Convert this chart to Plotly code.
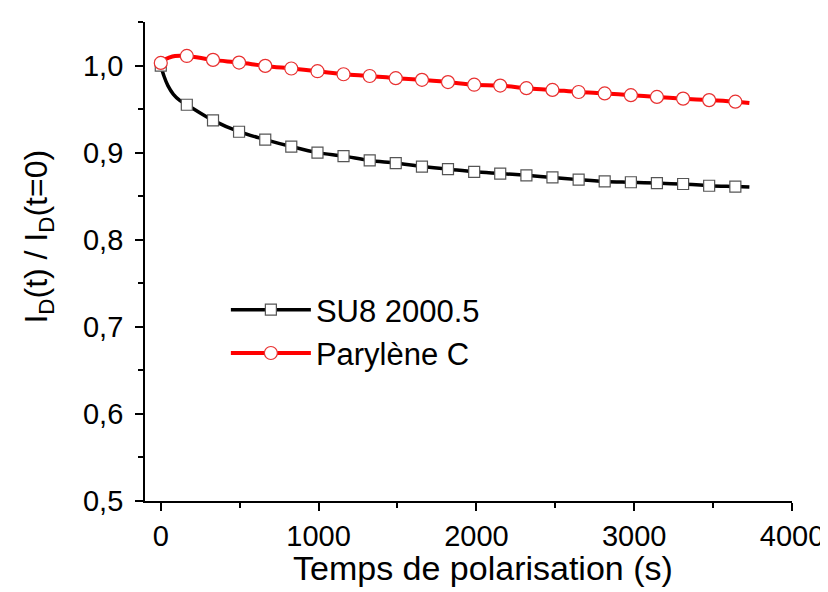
import plotly.graph_objects as go

# Marker times (s)
t_markers = [0, 165, 331, 496, 662, 827, 993, 1158, 1324, 1489, 1655, 1820, 1986,
             2151, 2317, 2482, 2648, 2813, 2979, 3144, 3310, 3475, 3641]

su8_markers = [1.000, 0.955, 0.937, 0.924, 0.915, 0.907, 0.900, 0.896, 0.891, 0.888,
               0.884, 0.881, 0.878, 0.876, 0.874, 0.8715, 0.869, 0.867, 0.866, 0.865,
               0.864, 0.862, 0.861]

pary_markers = [1.003, 1.011, 1.0065, 1.0034, 0.9996, 0.9966, 0.9935, 0.990, 0.988,
                0.9855, 0.9836, 0.981, 0.978, 0.977, 0.974, 0.972, 0.9696, 0.968,
                0.966, 0.964, 0.962, 0.9603, 0.9585]

# Continuous curves (incl. early-time detail and end of line)
su8_t = [0, 20, 45, 80, 120] + t_markers[1:] + [3730]
su8_v = [1.000, 0.988, 0.977, 0.967, 0.960] + su8_markers[1:] + [0.8604]

pary_t = [0, 25, 50, 90] + t_markers[1:] + [3730]
pary_v = [1.003, 1.007, 1.009, 1.011] + pary_markers[1:] + [0.957]

x_ticks = [0, 1000, 2000, 3000, 4000]
y_ticks = [0.5, 0.6, 0.7, 0.8, 0.9, 1.0]

x_title = "Temps de polarisation (s)"
y_title = "I<sub>D</sub>(t) / I<sub>D</sub>(t=0)"

fig = go.Figure()

# smooth lines
fig.add_trace(go.Scatter(x=su8_t, y=su8_v, mode="lines",
                         line=dict(color="black", width=3.5, shape="spline"),
                         showlegend=False, hoverinfo="skip"))
fig.add_trace(go.Scatter(x=pary_t, y=pary_v, mode="lines",
                         line=dict(color="#ff0000", width=4, shape="spline"),
                         showlegend=False, hoverinfo="skip"))
# markers
sq_marker = dict(symbol="square", size=11, color="white",
                 line=dict(color="#555555", width=1.2))
ci_marker = dict(symbol="circle", size=13, color="white",
                 line=dict(color="#e83030", width=1.2))
fig.add_trace(go.Scatter(x=t_markers, y=su8_markers, mode="markers",
                         marker=sq_marker, showlegend=False))
fig.add_trace(go.Scatter(x=t_markers, y=pary_markers, mode="markers",
                         marker=ci_marker, showlegend=False))
# legend entries
fig.add_trace(go.Scatter(x=[None], y=[None], mode="lines+markers", name="SU8 2000.5",
                         line=dict(color="black", width=3.5), marker=sq_marker))
fig.add_trace(go.Scatter(x=[None], y=[None], mode="lines+markers", name="Parylène C",
                         line=dict(color="#ff0000", width=4), marker=ci_marker))

font_family = "Liberation Sans, Arial, sans-serif"

fig.update_layout(
    width=828, height=592,
    margin=dict(l=137, r=37, t=14, b=99),
    paper_bgcolor="white", plot_bgcolor="white",
    separators=",.",
    font=dict(family=font_family, color="black", size=29),
    legend=dict(x=0.125, y=0.455, xanchor="left", yanchor="top",
                bgcolor="rgba(0,0,0,0)", font=dict(size=31),
                itemwidth=80, tracegroupgap=0),
    xaxis=dict(range=[-100, 4000], tickvals=x_ticks,
               showline=True, linecolor="black", linewidth=1.8,
               ticks="outside", ticklen=8, tickwidth=1.8, tickcolor="black",
               ticklabelstandoff=0,
               minor=dict(dtick=500, ticks="outside", ticklen=5, tickwidth=1.8, tickcolor="black"),
               showgrid=False, zeroline=False,
               tickfont=dict(size=29)),
    yaxis=dict(range=[0.5, 1.05], tickvals=y_ticks, tickformat=".1f",
               showline=True, linecolor="black", linewidth=1.8,
               ticks="outside", ticklen=8, tickwidth=1.8, tickcolor="black",
               ticklabelstandoff=6,
               minor=dict(dtick=0.05, tick0=0.5, ticks="outside", ticklen=5, tickwidth=1.8, tickcolor="black"),
               showgrid=False, zeroline=False,
               tickfont=dict(size=29)),
    annotations=[
        dict(text=x_title, xref="paper", yref="paper", x=0.523, y=0,
             xanchor="center", yanchor="middle", yshift=-67, showarrow=False,
             font=dict(size=34)),
        dict(text=y_title, xref="paper", yref="paper", x=0, y=0.552,
             xanchor="center", yanchor="middle", xshift=-106, showarrow=False,
             textangle=-90, font=dict(size=32)),
    ],
)

fig.write_html("out.html")
